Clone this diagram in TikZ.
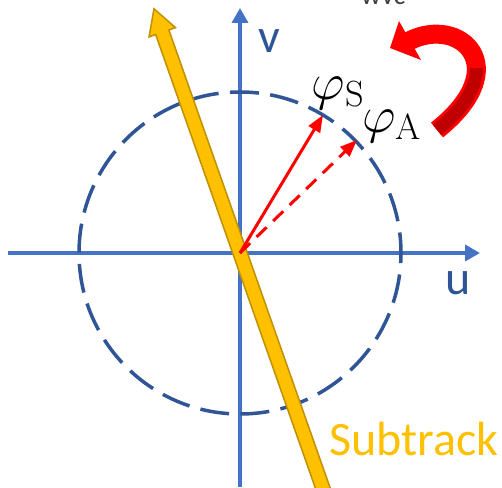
\RequirePackage{fix-cm}
\documentclass[tikz,border=0pt]{standalone}
\usepackage{fontspec}
\newfontfamily\calibri{Carlito}
\usetikzlibrary{arrows.meta}
\definecolor{caxis}{HTML}{4472C4}
\definecolor{ccircle}{HTML}{2F5597}
\definecolor{cyellow}{HTML}{FFC000}
\definecolor{cgold}{HTML}{BF9000}
\definecolor{cred}{HTML}{FF0000}
\definecolor{cdarkred}{HTML}{C00000}
\tikzset{
  uvaxis/.style={draw=caxis, line width=3.5pt, -{Triangle[length=15pt, width=16pt]}},
  phasor/.style={draw=cred, line width=3pt, -{Triangle[length=17pt, width=13pt]}},
  axislabel/.style={font=\calibri\fontsize{48}{56}\selectfont, inner sep=0pt},
  phaselabel/.style={font=\fontsize{52}{58}\selectfont, inner sep=0pt},
}

\begin{document}
\begin{tikzpicture}[x=1pt, y=1pt]
  \useasboundingbox (0,0) rectangle (502,487);
  \coordinate (O) at (240,234);
  \coordinate (uL) at (8,234);
  \coordinate (uR) at (480,234);
  \coordinate (vB) at (240,0);
  \coordinate (vT) at (240,479);
  % axes and unit circle
  \draw[uvaxis] (uL) -- (uR);
  \draw[uvaxis] (vB) -- (vT);
  \draw[ccircle, line width=3.5pt, dash pattern=on 29pt off 11.4pt, dash phase=8.4pt] (O) circle (161);
  % subtrack direction
  \begin{scope}[shift={(O)}, rotate=109.4]
    \filldraw[fill=cyellow, draw=cgold, line width=1.5pt] (259,0) -- (234,14) -- (234,7) -- (-280,7) -- (-280,-7) -- (234,-7) -- (234,-14) -- cycle;
  \end{scope}
  % phasors
  \coordinate (S) at (323,372);
  \coordinate (A) at (357,347);
  \draw[phasor] (O) -- (S);
  \draw[phasor, dash pattern=on 14pt off 9pt] (O) -- (A);
  % rotation arrow
  \coordinate (rotTail) at (437,357);
  \coordinate (rotHead) at (409,446);
  \draw[cred, line width=19pt] (rotTail) .. controls (516,420) and (460,472) .. (rotHead);
  \begin{scope}
    \clip (380,300) rectangle (520,418);
    \draw[cdarkred, line width=13pt] (rotTail) .. controls (516,420) and (460,472) .. (rotHead);
  \end{scope}
  \fill[cred] (390,439) -- (399,466) -- (421,427) -- cycle;
  % labels
  \node[phaselabel] (phiS) at (338,394) {$\varphi_{\mathrm{S}}$};
  \node[phaselabel] (phiA) at (392,361) {$\varphi_{\mathrm{A}}$};
  \node[axislabel, text=ccircle, anchor=base] (vlab) at (269,434) {v};
  \node[axislabel, text=ccircle, anchor=base] (ulab) at (458,192) {u};
  \node[axislabel, text=cyellow, anchor=base west] (sublab) at (329,32) {Subtrack};
  \node[font=\calibri\fontsize{28}{32}\selectfont, text=black!75, anchor=base west, inner sep=0pt] (wvc) at (361,482) {wvc};
\end{tikzpicture}
\end{document}
